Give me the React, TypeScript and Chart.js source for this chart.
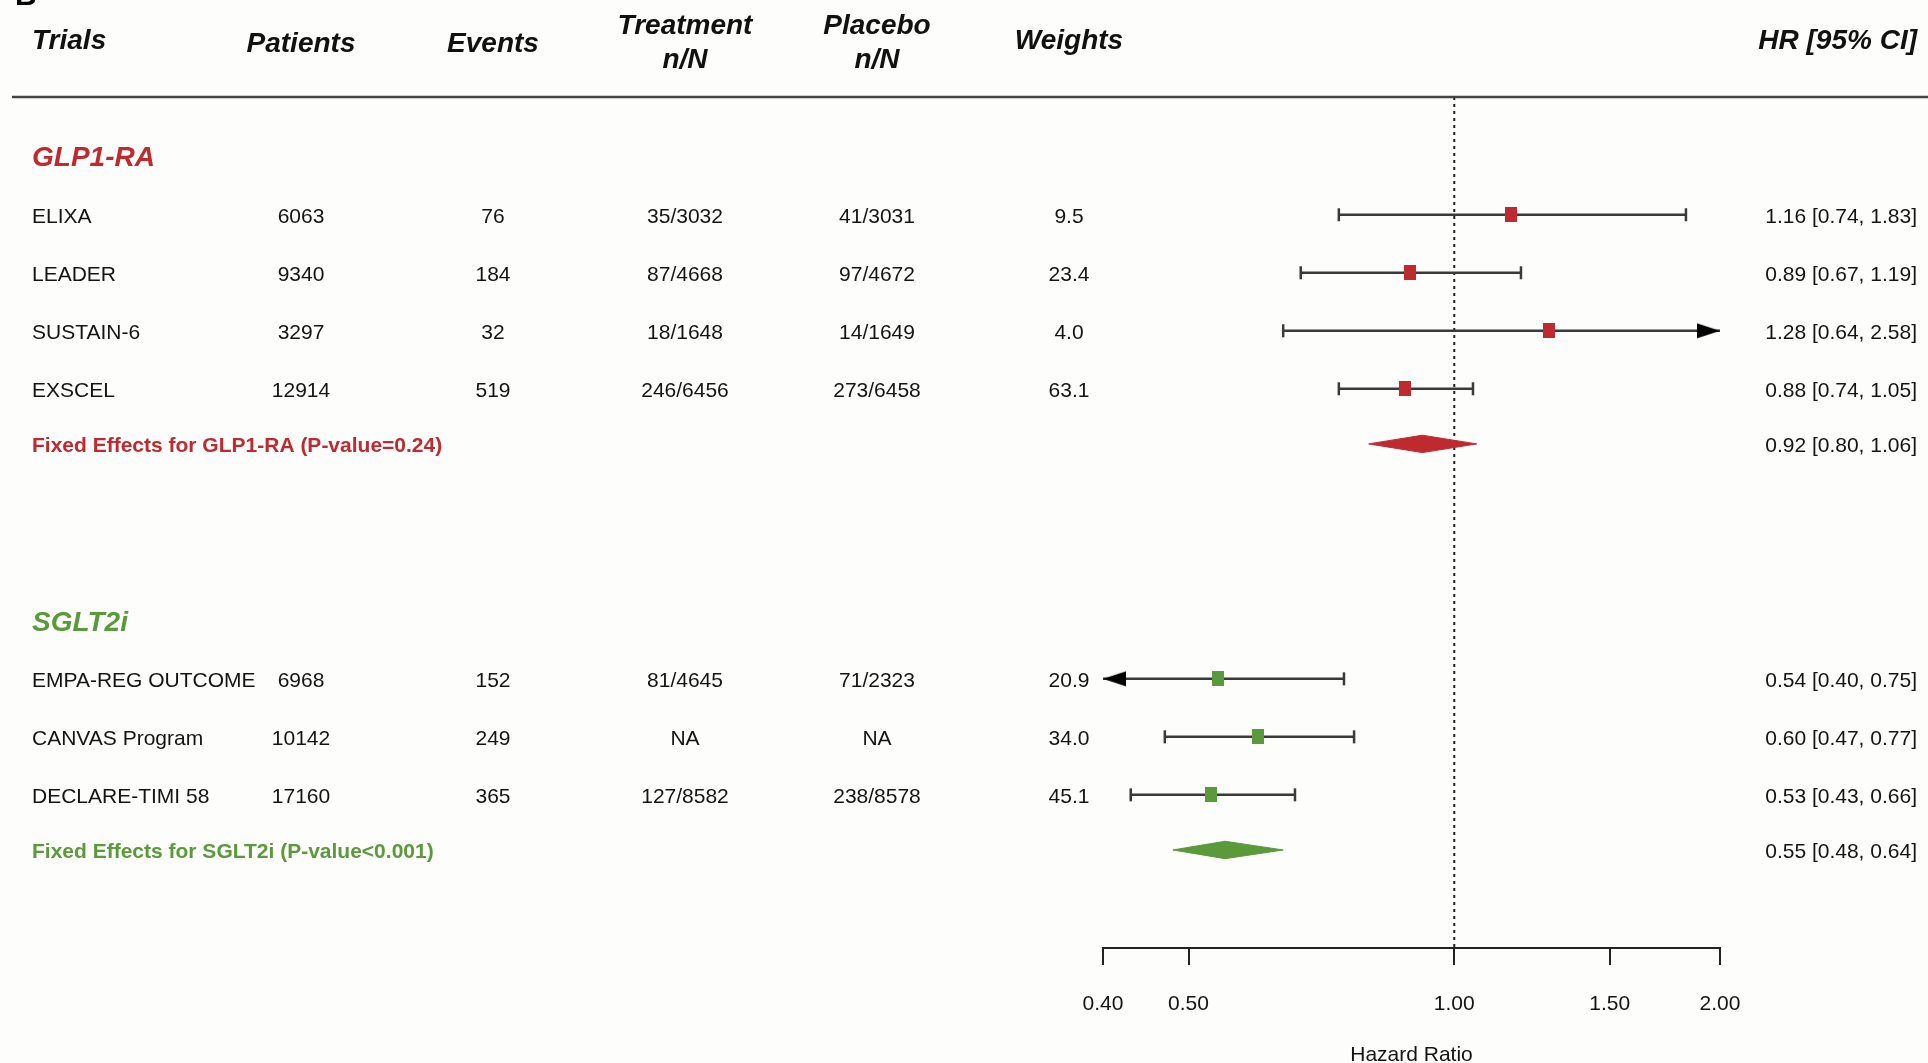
import { useEffect, useRef } from 'react';
import { Chart, registerables } from 'chart.js';

Chart.register(...registerables);

const FONT = "'Liberation Sans', Arial, Helvetica, sans-serif";

// ---------- data ----------
const GLP_TRIALS = ['ELIXA', 'LEADER', 'SUSTAIN-6', 'EXSCEL'];
const GLP_PATIENTS = [6063, 9340, 3297, 12914];
const GLP_EVENTS = [76, 184, 32, 519];
const GLP_TREATMENT = ['35/3032', '87/4668', '18/1648', '246/6456'];
const GLP_PLACEBO = ['41/3031', '97/4672', '14/1649', '273/6458'];
const GLP_WEIGHTS = [9.5, 23.4, 4.0, 63.1];
const GLP_HR = [1.16, 0.89, 1.28, 0.88];
const GLP_LOWER = [0.74, 0.67, 0.64, 0.74];
const GLP_UPPER = [1.83, 1.19, 2.58, 1.05];
const GLP_POOLED = [0.92, 0.8, 1.06];
const GLP_PVALUE = 'P-value=0.24';

const SGLT_TRIALS = ['EMPA-REG OUTCOME', 'CANVAS Program', 'DECLARE-TIMI 58'];
const SGLT_PATIENTS = [6968, 10142, 17160];
const SGLT_EVENTS = [152, 249, 365];
const SGLT_TREATMENT = ['81/4645', 'NA', '127/8582'];
const SGLT_PLACEBO = ['71/2323', 'NA', '238/8578'];
const SGLT_WEIGHTS = [20.9, 34.0, 45.1];
const SGLT_HR = [0.54, 0.6, 0.53];
const SGLT_LOWER = [0.4, 0.47, 0.43];
const SGLT_UPPER = [0.75, 0.77, 0.66];
const SGLT_POOLED = [0.55, 0.48, 0.64];
const SGLT_PVALUE = 'P-value<0.001';

const HEADERS = ['Trials', 'Patients', 'Events', 'Treatment\nn/N', 'Placebo\nn/N', 'Weights', 'HR [95% CI]'];
const AXIS_TICKS = [0.4, 0.5, 1.0, 1.5, 2.0];
const AXIS_TITLE = 'Hazard Ratio';
const X_MIN = 0.4;
const X_MAX = 2.0;

// ---------- layout constants ----------
const W = 1928;
const H = 1063;
const Y_MIN = -1.03;
const Y_MAX = 13.64;
const POOLED_OFFSET = 0.95;
const DIAMOND_HALF = 0.15;
const TEXT_SHIFT = 2;
const COL = { name: 32, patients: 301, events: 493, treatment: 685, placebo: 877, weights: 1069, hr: 1917 };
const HEADER_DY = [-55.5, -53, -53, 0, 0, -55.5, -55.5];
const LINE_COLOR = '#3a3a3a';
const TEXT_COLOR = '#141414';

const GROUPS = [
  {
    name: 'GLP1-RA', color: '#BE2A30', start: 0,
    trials: GLP_TRIALS, patients: GLP_PATIENTS, events: GLP_EVENTS, treatment: GLP_TREATMENT,
    placebo: GLP_PLACEBO, weights: GLP_WEIGHTS, hr: GLP_HR, lower: GLP_LOWER, upper: GLP_UPPER,
    pooled: GLP_POOLED, pvalue: GLP_PVALUE,
  },
  {
    name: 'SGLT2i', color: '#5A9A3A', start: 8,
    trials: SGLT_TRIALS, patients: SGLT_PATIENTS, events: SGLT_EVENTS, treatment: SGLT_TREATMENT,
    placebo: SGLT_PLACEBO, weights: SGLT_WEIGHTS, hr: SGLT_HR, lower: SGLT_LOWER, upper: SGLT_UPPER,
    pooled: SGLT_POOLED, pvalue: SGLT_PVALUE,
  },
];

const fmt2 = (v: number) => v.toFixed(2);
const hrText = (h: number, l: number, u: number) => `${fmt2(h)} [${fmt2(l)}, ${fmt2(u)}]`;

function makeSquare(color: string) {
  const c = document.createElement('canvas');
  c.width = 12; c.height = 15;
  const g = c.getContext('2d')!;
  g.fillStyle = color;
  g.fillRect(0, 0, 12, 15);
  return c;
}

function makeArrow() {
  // tip at canvas centre, pointing right
  const c = document.createElement('canvas');
  c.width = 48; c.height = 16;
  const g = c.getContext('2d')!;
  g.fillStyle = '#000';
  g.beginPath();
  g.moveTo(1, 0.5);
  g.lineTo(24, 8);
  g.lineTo(1, 15.5);
  g.closePath();
  g.fill();
  return c;
}

const tablePlugin = {
  id: 'forestTable',
  beforeDraw(chart: any) {
    const ctx = chart.ctx;
    ctx.save();
    ctx.fillStyle = '#FDFDFB';
    ctx.fillRect(0, 0, chart.width, chart.height);
    ctx.restore();
  },
  afterDraw(chart: any) {
    const ctx = chart.ctx;
    const ys = chart.scales.y;
    const top = chart.chartArea.top;
    const rowY = (r: number) => ys.getPixelForValue(r) + TEXT_SHIFT;
    ctx.save();

    // cropped panel letter at top-left
    ctx.fillStyle = '#000';
    ctx.font = `bold 30px ${FONT}`;
    ctx.textBaseline = 'alphabetic';
    ctx.textAlign = 'left';
    ctx.fillText('B', 15, 5);

    // header rule
    ctx.strokeStyle = '#444';
    ctx.lineWidth = 2.5;
    ctx.beginPath();
    ctx.moveTo(12, top);
    ctx.lineTo(W, top);
    ctx.stroke();

    // headers
    ctx.font = `italic bold 28px ${FONT}`;
    ctx.fillStyle = '#111';
    ctx.textBaseline = 'middle';
    const hx = [COL.name, COL.patients, COL.events, COL.treatment, COL.placebo, COL.weights, COL.hr];
    const halign = ['left', 'center', 'center', 'center', 'center', 'center', 'right'];
    HEADERS.forEach((h, i) => {
      ctx.textAlign = halign[i];
      const lines = h.split('\n');
      if (lines.length === 1) {
        ctx.fillText(lines[0], hx[i], top + HEADER_DY[i]);
      } else {
        ctx.fillText(lines[0], hx[i], top - 70.5);
        ctx.fillText(lines[1], hx[i], top - 37);
      }
    });

    GROUPS.forEach((g) => {
      // group title
      ctx.font = `italic bold 28px ${FONT}`;
      ctx.fillStyle = g.color;
      ctx.textAlign = 'left';
      ctx.fillText(g.name, COL.name, rowY(g.start));

      ctx.font = `21px ${FONT}`;
      ctx.fillStyle = TEXT_COLOR;
      g.trials.forEach((t, i) => {
        const py = rowY(g.start + 1 + i);
        ctx.textAlign = 'left';
        ctx.fillText(t, COL.name, py);
        ctx.textAlign = 'center';
        ctx.fillText(String(g.patients[i]), COL.patients, py);
        ctx.fillText(String(g.events[i]), COL.events, py);
        ctx.fillText(g.treatment[i], COL.treatment, py);
        ctx.fillText(g.placebo[i], COL.placebo, py);
        ctx.fillText(g.weights[i].toFixed(1), COL.weights, py);
        ctx.textAlign = 'right';
        ctx.fillText(hrText(g.hr[i], g.lower[i], g.upper[i]), COL.hr, py);
      });

      const pr = rowY(g.start + g.trials.length + POOLED_OFFSET);
      ctx.font = `bold 21px ${FONT}`;
      ctx.fillStyle = g.color;
      ctx.textAlign = 'left';
      ctx.fillText(`Fixed Effects for ${g.name} (${g.pvalue})`, COL.name, pr);
      ctx.font = `21px ${FONT}`;
      ctx.fillStyle = TEXT_COLOR;
      ctx.textAlign = 'right';
      ctx.fillText(hrText(g.pooled[0], g.pooled[1], g.pooled[2]), COL.hr, pr);
    });

    ctx.restore();
  },
};

export default function App() {
  const ref = useRef<HTMLCanvasElement | null>(null);

  useEffect(() => {
    const canvas = ref.current;
    if (!canvas) return;
    const arrow = makeArrow();
    const datasets: any[] = [];

    // reference line at HR = 1
    datasets.push({
      data: [{ x: 1, y: Y_MIN }, { x: 1, y: Y_MAX }],
      showLine: true,
      borderColor: '#222',
      borderWidth: 2,
      borderDash: [3, 4],
      pointRadius: 0,
      order: 3,
      clip: false,
    });

    GROUPS.forEach((g) => {
      const square = makeSquare(g.color);
      g.trials.forEach((_, i) => {
        const row = g.start + 1 + i;
        const lo = Math.max(g.lower[i], X_MIN);
        const hi = Math.min(g.upper[i], X_MAX);
        const loArrow = g.lower[i] <= X_MIN;
        const hiArrow = g.upper[i] > X_MAX;
        datasets.push({
          data: [{ x: lo, y: row }, { x: hi, y: row }],
          showLine: true,
          borderColor: LINE_COLOR,
          borderWidth: 2.5,
          pointStyle: [loArrow ? arrow : 'line', hiArrow ? arrow : 'line'],
          pointRotation: [loArrow ? 180 : 90, hiArrow ? 0 : 90],
          pointRadius: 6.5,
          pointBorderColor: LINE_COLOR,
          pointBorderWidth: 2.5,
          pointBackgroundColor: LINE_COLOR,
          order: 2,
          clip: false,
        });
      });
      // point estimates
      datasets.push({
        data: g.hr.map((h, i) => ({ x: h, y: g.start + 1 + i })),
        pointStyle: square,
        pointRadius: 7,
        showLine: false,
        order: 0,
        clip: false,
      });
      // pooled diamond
      const pRow = g.start + g.trials.length + POOLED_OFFSET;
      const [ph, pl, pu] = g.pooled;
      datasets.push({
        data: [
          { x: pl, y: pRow },
          { x: ph, y: pRow - DIAMOND_HALF },
          { x: pu, y: pRow },
          { x: ph, y: pRow + DIAMOND_HALF },
          { x: pl, y: pRow },
        ],
        showLine: true,
        fill: 'shape',
        backgroundColor: g.color,
        borderColor: g.color,
        borderWidth: 1,
        pointRadius: 0,
        tension: 0,
        order: 0,
        clip: false,
      });
    });

    const chart = new Chart(canvas, {
      type: 'scatter',
      data: { datasets },
      options: {
        animation: false,
        responsive: false,
        events: [],
        layout: { padding: { left: 1103, right: W - 1720, top: 97, bottom: 0 } },
        plugins: { legend: { display: false }, tooltip: { enabled: false } },
        scales: {
          x: {
            type: 'logarithmic',
            position: 'bottom',
            min: X_MIN,
            max: X_MAX,
            afterBuildTicks: (s: any) => {
              s.ticks = AXIS_TICKS.map((v) => ({ value: v }));
            },
            afterFit: (s: any) => {
              s.height = 115;
            },
            ticks: {
              callback: (v: any) => Number(v).toFixed(2),
              font: { family: FONT, size: 21 },
              color: TEXT_COLOR,
              padding: 27,
              autoSkip: false,
              maxRotation: 0,
              minRotation: 0,
            },
            grid: {
              display: true,
              drawOnChartArea: false,
              drawTicks: true,
              tickLength: 17,
              color: '#222',
              lineWidth: 2,
            },
            border: { display: true, color: '#222', width: 2 },
            title: {
              display: true,
              text: AXIS_TITLE,
              color: TEXT_COLOR,
              font: { family: FONT, size: 21, lineHeight: 1 },
              padding: { top: 0, bottom: -3 },
            },
          },
          y: {
            type: 'linear',
            min: Y_MIN,
            max: Y_MAX,
            reverse: true,
            display: false,
          },
        },
      } as any,
      plugins: [tablePlugin],
    });
    return () => chart.destroy();
  }, []);

  return (
    <div style={{ position: 'fixed', left: 0, top: 0, width: W, height: H, overflow: 'hidden', background: '#FDFDFB' }}>
      <canvas ref={ref} width={W} height={H} style={{ display: 'block', width: W, height: H }} />
    </div>
  );
}
